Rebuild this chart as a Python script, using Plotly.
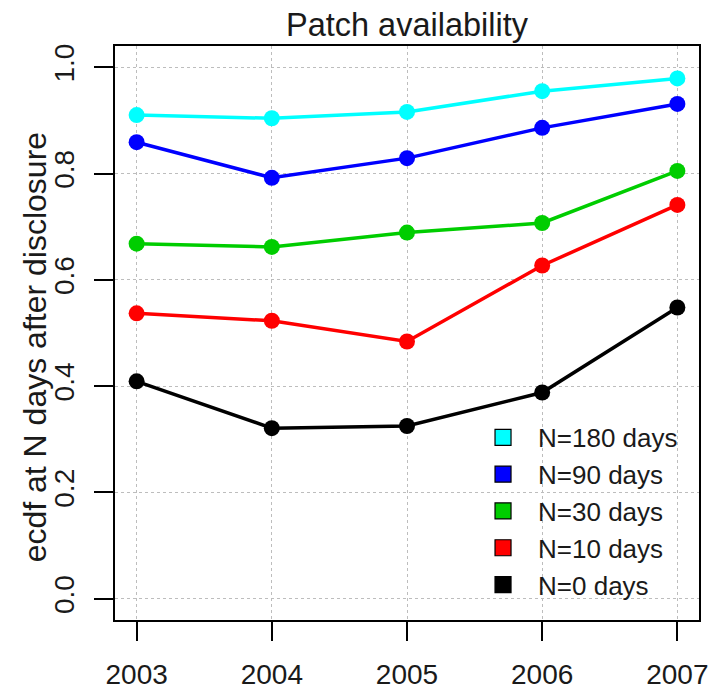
import plotly.graph_objects as go

# Share of vulnerabilities with a patch available N days after disclosure
years = [2003, 2004, 2005, 2006, 2007]
series_names = ["N=180 days", "N=90 days", "N=30 days", "N=10 days", "N=0 days"]
series_colors = ["#00FFFF", "#0000FF", "#00CD00", "#FF0000", "#000000"]
n180 = [0.910, 0.904, 0.916, 0.955, 0.979]
n90 = [0.859, 0.792, 0.829, 0.886, 0.931]
n30 = [0.668, 0.662, 0.689, 0.707, 0.805]
n10 = [0.537, 0.523, 0.484, 0.627, 0.741]
n0 = [0.409, 0.321, 0.325, 0.388, 0.548]
y_ticks = [0.0, 0.2, 0.4, 0.6, 0.8, 1.0]

series_values = [n180, n90, n30, n10, n0]
FONT = "Liberation Sans"
TXT = "#1a1a1a"

fig = go.Figure()

# draw lowest series first so upper curves sit on top
for name, color, vals in reversed(list(zip(series_names, series_colors, series_values))):
    fig.add_trace(go.Scatter(
        x=years, y=vals, mode="lines+markers", name=name,
        line=dict(color=color, width=3.5),
        marker=dict(color=color, size=16),
        showlegend=False,
    ))

# legend entries as filled squares
for name, color in zip(series_names, series_colors):
    fig.add_trace(go.Scatter(
        x=[None], y=[None], mode="markers", name=name,
        marker=dict(symbol="square", color=color, size=21,
                    line=dict(color="black", width=1.2)),
        showlegend=True,
    ))

axis_common = dict(
    showline=True, mirror=True, linecolor="black", linewidth=2,
    ticks="outside", ticklen=19, tickwidth=1.8, tickcolor="black",
    showgrid=True, gridcolor="#bdbdbd", griddash="dot", gridwidth=1,
    zeroline=False, automargin=False,
    tickfont=dict(family=FONT, size=28, color=TXT),
)

fig.update_xaxes(
    range=[2002.84, 2007.16], tickvals=years, ticktext=[str(y) for y in years],
    ticklabelstandoff=9, **axis_common,
)
fig.update_yaxes(
    range=[-0.04, 1.04], tickvals=y_ticks, ticktext=[f"{v:.1f}" for v in y_ticks],
    tickangle=-90, ticklabelstandoff=9,
    **axis_common,
)

fig.update_layout(
    width=713, height=691,
    margin=dict(l=115, r=14, t=46, b=71),
    paper_bgcolor="white", plot_bgcolor="white",
    title=dict(text="Patch availability", x=0.5, xref="paper", xanchor="center",
               y=1 - 25 / 691, yref="container", yanchor="middle",
               font=dict(family=FONT, size=32.5, color=TXT)),
    legend=dict(x=0.6045, y=0.359, xanchor="left", yanchor="top",
                bgcolor="rgba(0,0,0,0)", borderwidth=0,
                font=dict(family=FONT, size=26, color=TXT),
                itemwidth=60, tracegroupgap=0),
    showlegend=True,
    annotations=[dict(
        text="ecdf at N days after disclosure", textangle=-90,
        xref="paper", x=-0.137, xanchor="center",
        yref="paper", y=0.475, yanchor="middle",
        showarrow=False, font=dict(family=FONT, size=32, color=TXT),
    )],
)

fig.write_html("out.html")
